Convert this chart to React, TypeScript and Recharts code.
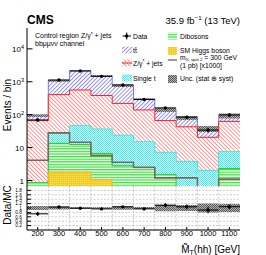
import React from 'react'
import {
  ComposedChart,
  Area,
  Line,
  Scatter,
  ErrorBar,
  XAxis,
  YAxis,
  CartesianGrid,
  ReferenceLine,
} from 'recharts'

// M_T(hh) bins, 100 GeV wide
const binCenters = [200, 300, 400, 500, 600, 700, 800, 900, 1000, 1100]
const binEdges = [150, 250, 350, 450, 550, 650, 750, 850, 950, 1050, 1150]

// expected events per bin, per process (stacked bottom -> top)
const higgs = [0.05, 1.8, 1.8, 1.05, 0.4, 0.3, 0.2, 0.1, 0.1, 0.3]
const dibosons = [0.8, 11.7, 10.5, 5.6, 2.4, 2.2, 1.3, 0.4, 0.4, 2.0]
const singleTop = [0.01, 13.5, 34, 30, 21, 12.5, 5.7, 3.3, 1.5, 5.2]
const zJets = [65, 380, 515, 345, 196, 124, 59, 39, 18.5, 55]
const ttbar = [28, 675, 1590, 1140, 540, 161, 76, 37, 17, 30]

// signal m_X = 300 GeV, spin 2, (1 pb) x1000, not stacked
const signalX1000 = [4.1, 28, 14.5, 5.7, 3.6, 2.5, 1.2, 1.2, 0.4, 1.1]

// observed data
const dataCounts = [69, 1130, 2130, 1460, 800, 288, 160, 84, 34, 98]
const dataErr = [8.3, 34, 46, 38, 28, 17, 12.6, 9.2, 5.8, 9.9]

// relative stat+syst uncertainty on the total
const relUnc = [0.09, 0.07, 0.03, 0.03, 0.08, 0.04, 0.15, 0.14, 0.2, 0.18]

const xMajor = [200, 300, 400, 500, 600, 700, 800, 900, 1000, 1100]
const yMajor = [1, 10, 100, 1000, 10000]
const ratioTicks = [0.2, 0.4, 0.6, 0.8, 1, 1.2, 1.4, 1.6, 1.8]

const X_DOMAIN: [number, number] = [150, 1150]
const Y_DOMAIN: [number, number] = [0.68, 43000]
const R_DOMAIN: [number, number] = [0, 2]

const xMinor: number[] = []
for (let v = 160; v < 1150; v += 20) if (v % 100 !== 0) xMinor.push(v)
const yMinor: number[] = []
for (const d of [0.1, 1, 10, 100, 1000, 10000]) {
  for (let m = 2; m <= 9; m++) {
    const v = m * d
    if (v > Y_DOMAIN[0] && v < Y_DOMAIN[1]) yMinor.push(v)
  }
}

const totalOf = (i: number) => higgs[i] + dibosons[i] + singleTop[i] + zJets[i] + ttbar[i]

// one row per low bin edge, plus the closing edge (repeats last bin) for step drawing
const rows = binEdges.map((edge, k) => {
  const i = Math.min(k, binCenters.length - 1)
  const h = higgs[i]
  const db = h + dibosons[i]
  const st = db + singleTop[i]
  const z = st + zJets[i]
  const tot = z + ttbar[i]
  return {
    x: edge,
    h,
    db,
    st,
    z,
    tot,
    sig: signalX1000[i],
    band: [tot * (1 - relUnc[i]), tot * (1 + relUnc[i])],
    rband: [1 - relUnc[i], 1 + relUnc[i]],
  }
})

const points = binCenters.map((x, i) => ({
  x,
  y: dataCounts[i],
  yErr: dataErr[i],
  xErr: 50,
  r: dataCounts[i] / totalOf(i),
  rErr: dataErr[i] / totalOf(i),
}))

const FONT = '"Liberation Sans", Arial, Helvetica, sans-serif'
const blank = () => ''
const ax = { stroke: '#000', strokeWidth: 1 }

const renderDot = (p: any) => <circle cx={p.cx} cy={p.cy} r={1.7} fill="#000" />

const LogTick = ({ x, y, payload }: any) => {
  const v = payload.value
  const exp = Math.round(Math.log10(v))
  return (
    <text x={x} y={y} dy="0.42em" textAnchor="end" fontSize={8} fill="#000" fontFamily={FONT}>
      {exp <= 1 ? String(v) : (
        <>
          10<tspan dy={-3.2} fontSize={5.6}>{exp}</tspan>
        </>
      )}
    </text>
  )
}

const RatioTick = ({ x, y, payload }: any) => (
  <text x={x} y={y} dy="0.36em" textAnchor="end" fontSize={4.8} fill="#000" fontFamily={FONT}>
    {String(payload.value)}
  </text>
)

function Patterns() {
  return (
    <svg width={0} height={0} style={{ position: 'absolute' }}>
      <defs>
        <pattern id="pTT" width="2.8" height="2.8" patternUnits="userSpaceOnUse" patternTransform="rotate(45)">
          <rect width="2.8" height="2.8" fill="#fff" />
          <rect width="0.7" height="2.8" fill="#6464f2" />
        </pattern>
        <pattern id="pZ" width="2.8" height="2.8" patternUnits="userSpaceOnUse" patternTransform="rotate(-45)">
          <rect width="2.8" height="2.8" fill="#fff" />
          <rect width="0.7" height="2.8" fill="#ff6a6a" />
        </pattern>
        <pattern id="pST" width="2" height="2" patternUnits="userSpaceOnUse">
          <rect width="2" height="2" fill="#dcfcfc" />
          <rect width="1" height="1" fill="#4decec" />
          <rect x="1" y="1" width="1" height="1" fill="#4decec" />
        </pattern>
        <pattern id="pDB" width="3" height="2.6" patternUnits="userSpaceOnUse">
          <rect width="3" height="2.6" fill="#fff" />
          <rect width="3" height="1.3" fill="#3ee03e" />
        </pattern>
        <pattern id="pH" width="2" height="2" patternUnits="userSpaceOnUse">
          <rect width="2" height="2" fill="#ffc81e" />
          <rect width="1" height="1" fill="#ffe070" />
        </pattern>
        <pattern id="pUnc" width="2" height="2" patternUnits="userSpaceOnUse">
          <rect width="2" height="2" fill="#b0b0b0" />
          <rect width="1" height="1" fill="#5a5a5a" />
          <rect x="1" y="1" width="1" height="1" fill="#5a5a5a" />
        </pattern>
      </defs>
    </svg>
  )
}

function MainPanel() {
  return (
    <ComposedChart width={266} height={186} data={rows} margin={{ top: 28, right: 26, bottom: 0, left: 0 }}>
      <XAxis xAxisId={0} dataKey="x" type="number" domain={X_DOMAIN} allowDataOverflow ticks={xMajor} interval={0}
        height={0} tickSize={-5} tickFormatter={blank} axisLine={ax} tickLine={ax} />
      <XAxis xAxisId="bm" type="number" domain={X_DOMAIN} allowDataOverflow ticks={xMinor} interval={0}
        mirror height={0} tickSize={2.5} tickFormatter={blank} axisLine={false} tickLine={ax} />
      <XAxis xAxisId="t" orientation="top" type="number" domain={X_DOMAIN} allowDataOverflow ticks={xMajor} interval={0}
        mirror height={0} tickSize={5} tickFormatter={blank} axisLine={ax} tickLine={ax} />
      <XAxis xAxisId="tm" orientation="top" type="number" domain={X_DOMAIN} allowDataOverflow ticks={xMinor} interval={0}
        mirror height={0} tickSize={2.5} tickFormatter={blank} axisLine={false} tickLine={ax} />
      <YAxis yAxisId={0} scale="log" type="number" domain={Y_DOMAIN} allowDataOverflow ticks={yMajor} interval={0}
        width={27} tickSize={-5.5} tickMargin={8.5} tick={LogTick} axisLine={ax} tickLine={ax} />
      <YAxis yAxisId="lm" scale="log" type="number" domain={Y_DOMAIN} allowDataOverflow ticks={yMinor} interval={0}
        mirror width={0} tickSize={3} tickFormatter={blank} axisLine={false} tickLine={ax} />
      <YAxis yAxisId="r" orientation="right" scale="log" type="number" domain={Y_DOMAIN} allowDataOverflow ticks={yMajor}
        interval={0} mirror width={0} tickSize={5.5} tickFormatter={blank} axisLine={ax} tickLine={ax} />
      <YAxis yAxisId="rm" orientation="right" scale="log" type="number" domain={Y_DOMAIN} allowDataOverflow ticks={yMinor}
        interval={0} mirror width={0} tickSize={3} tickFormatter={blank} axisLine={false} tickLine={ax} />

      <Area dataKey="tot" type="stepAfter" fill="url(#pTT)" fillOpacity={1} stroke="#5a5af0" strokeWidth={0.8}
        dot={false} activeDot={false} isAnimationActive={false} />
      <Area dataKey="band" type="stepAfter" fill="url(#pUnc)" fillOpacity={1} stroke="none"
        dot={false} activeDot={false} isAnimationActive={false} />
      <Area dataKey="z" type="stepAfter" fill="url(#pZ)" fillOpacity={1} stroke="#ff2020" strokeWidth={1}
        dot={false} activeDot={false} isAnimationActive={false} />
      <Area dataKey="st" type="stepAfter" fill="url(#pST)" fillOpacity={1} stroke="#3ee4e4" strokeWidth={1}
        dot={false} activeDot={false} isAnimationActive={false} />
      <Area dataKey="db" type="stepAfter" fill="url(#pDB)" fillOpacity={1} stroke="#22cc22" strokeWidth={1}
        dot={false} activeDot={false} isAnimationActive={false} />
      <Area dataKey="h" type="stepAfter" fill="url(#pH)" fillOpacity={1} stroke="#f0b000" strokeWidth={0.8}
        dot={false} activeDot={false} isAnimationActive={false} />
      <Line dataKey="sig" type="stepAfter" stroke="#7a6666" strokeWidth={1.6} dot={false} activeDot={false}
        isAnimationActive={false} />
      <Scatter data={points} dataKey="y" shape={renderDot} isAnimationActive={false}>
        <ErrorBar dataKey="xErr" direction="x" width={0} stroke="#000" strokeWidth={1} />
        <ErrorBar dataKey="yErr" direction="y" width={0} stroke="#000" strokeWidth={1} />
      </Scatter>
    </ComposedChart>
  )
}

function RatioPanel() {
  const grid = { stroke: '#a8a8a8', strokeWidth: 0.6, strokeDasharray: '2 1.5' }
  return (
    <ComposedChart width={266} height={69} data={rows} margin={{ top: 0, right: 26, bottom: 0, left: 0 }}>
      <CartesianGrid vertical={false} {...grid} />
      {binEdges.slice(1, -1).map((e) => (
        <ReferenceLine key={e} x={e} {...grid} />
      ))}
      <XAxis xAxisId={0} dataKey="x" type="number" domain={X_DOMAIN} allowDataOverflow ticks={xMajor} interval={0}
        height={25} tickSize={-3} tickMargin={4} tick={{ fontSize: 7.5, fill: '#000', fontFamily: FONT }}
        axisLine={ax} tickLine={ax} />
      <XAxis xAxisId="bm" type="number" domain={X_DOMAIN} allowDataOverflow ticks={xMinor} interval={0}
        mirror height={0} tickSize={1.5} tickFormatter={blank} axisLine={false} tickLine={ax} />
      <XAxis xAxisId="t" orientation="top" type="number" domain={X_DOMAIN} allowDataOverflow ticks={xMajor} interval={0}
        mirror height={0} tickSize={3} tickFormatter={blank} axisLine={ax} tickLine={ax} />
      <XAxis xAxisId="tm" orientation="top" type="number" domain={X_DOMAIN} allowDataOverflow ticks={xMinor} interval={0}
        mirror height={0} tickSize={1.5} tickFormatter={blank} axisLine={false} tickLine={ax} />
      <YAxis yAxisId={0} type="number" domain={R_DOMAIN} allowDataOverflow ticks={ratioTicks} interval={0}
        width={27} tickSize={-4} tickMargin={9} tick={RatioTick} axisLine={ax} tickLine={ax} />
      <YAxis yAxisId="r" orientation="right" type="number" domain={R_DOMAIN} allowDataOverflow ticks={ratioTicks}
        interval={0} mirror width={0} tickSize={4} tickFormatter={blank} axisLine={ax} tickLine={ax} />

      <Area dataKey="rband" type="stepAfter" fill="url(#pUnc)" fillOpacity={1} stroke="none"
        dot={false} activeDot={false} isAnimationActive={false} />
      <Scatter data={points} dataKey="r" shape={renderDot} isAnimationActive={false}>
        <ErrorBar dataKey="xErr" direction="x" width={0} stroke="#000" strokeWidth={1} />
        <ErrorBar dataKey="rErr" direction="y" width={0} stroke="#000" strokeWidth={1} />
      </Scatter>
    </ComposedChart>
  )
}

function Overlay() {
  const fs = 6.8
  const box = (x: number, y: number, w: number, h: number, fill: string) => (
    <rect x={x} y={y} width={w} height={h} fill={fill} />
  )
  return (
    <svg width={266} height={255} style={{ position: 'absolute', left: 0, top: 0, pointerEvents: 'none' }}
      fontFamily={FONT} fill="#000">
      <text x={27} y={24} fontSize={12} fontWeight="bold">CMS</text>
      <text x={240} y={24} fontSize={9.5} textAnchor="end">
        35.9 fb<tspan dy={-3.6} fontSize={6.2}>−1</tspan><tspan dy={3.6}> (13 TeV)</tspan>
      </text>

      <text transform="translate(10.5,105) rotate(-90)" fontSize={10} textAnchor="middle">Events / bin</text>
      <text transform="translate(10.5,205) rotate(-90)" fontSize={10} textAnchor="middle">Data/MC</text>
      <text x={240} y={252.5} fontSize={10} textAnchor="end">
        M{'\u0303'}<tspan dy={2} fontSize={7}>T</tspan><tspan dy={-2}>(hh) [GeV]</tspan>
      </text>

      <text x={35} y={38.3} fontSize={7}>
        Control region Z/γ<tspan dy={-2.5} fontSize={5}>*</tspan><tspan dy={2.5}> + jets</tspan>
      </text>
      <text x={35} y={46.3} fontSize={7}>bbμμνν channel</text>

      {/* left legend column */}
      <line x1={122.5} x2={131} y1={36} y2={36} stroke="#000" strokeWidth={1} />
      <line x1={126.7} x2={126.7} y1={32.5} y2={39.5} stroke="#000" strokeWidth={1} />
      <circle cx={126.7} cy={36} r={1.7} fill="#000" />
      <text x={133} y={38.8} fontSize={fs}>Data</text>

      {box(122, 46.5, 10, 7, 'url(#pTT)')}
      <text x={133} y={52.5} fontSize={fs}>t{'t\u0304'}</text>

      {box(122, 59.5, 10, 7, 'url(#pZ)')}
      <line x1={122} x2={132} y1={63} y2={63} stroke="#ff2020" strokeWidth={1} />
      <text x={133} y={65.5} fontSize={fs}>
        Z/γ<tspan dy={-2.4} fontSize={4.8}>*</tspan><tspan dy={2.4}> + jets</tspan>
      </text>

      {box(122, 74.5, 10, 7, 'url(#pST)')}
      <text x={133} y={81} fontSize={fs}>Single t</text>

      {/* right legend column */}
      {box(168, 32.5, 9, 7, 'url(#pDB)')}
      <text x={180} y={38.6} fontSize={fs}>Dibosons</text>

      {box(168, 47, 9, 8, 'url(#pH)')}
      <text x={180} y={52.5} fontSize={fs}>SM Higgs boson</text>

      <line x1={168} x2={177} y1={60} y2={60} stroke="#7a5a5a" strokeWidth={1.3} />
      <text x={180} y={59.6} fontSize={fs}>
        m<tspan dy={1.6} fontSize={4.3}>X, spin 2</tspan><tspan dy={-1.6}> = 300 GeV</tspan>
      </text>
      <text x={180} y={68} fontSize={fs}>(1 pb) [x1000]</text>

      {box(168, 75, 9, 8, 'url(#pUnc)')}
      <text x={180} y={81} fontSize={fs}>Unc. (stat ⊕ syst)</text>
    </svg>
  )
}

export default function App() {
  return (
    <div style={{ position: 'absolute', left: 0, top: 0, width: 266, height: 255, background: '#fff', fontFamily: FONT }}>
      <Patterns />
      <div style={{ position: 'absolute', left: 0, top: 0 }}>
        <MainPanel />
      </div>
      <div style={{ position: 'absolute', left: 0, top: 186 }}>
        <RatioPanel />
      </div>
      <Overlay />
    </div>
  )
}
